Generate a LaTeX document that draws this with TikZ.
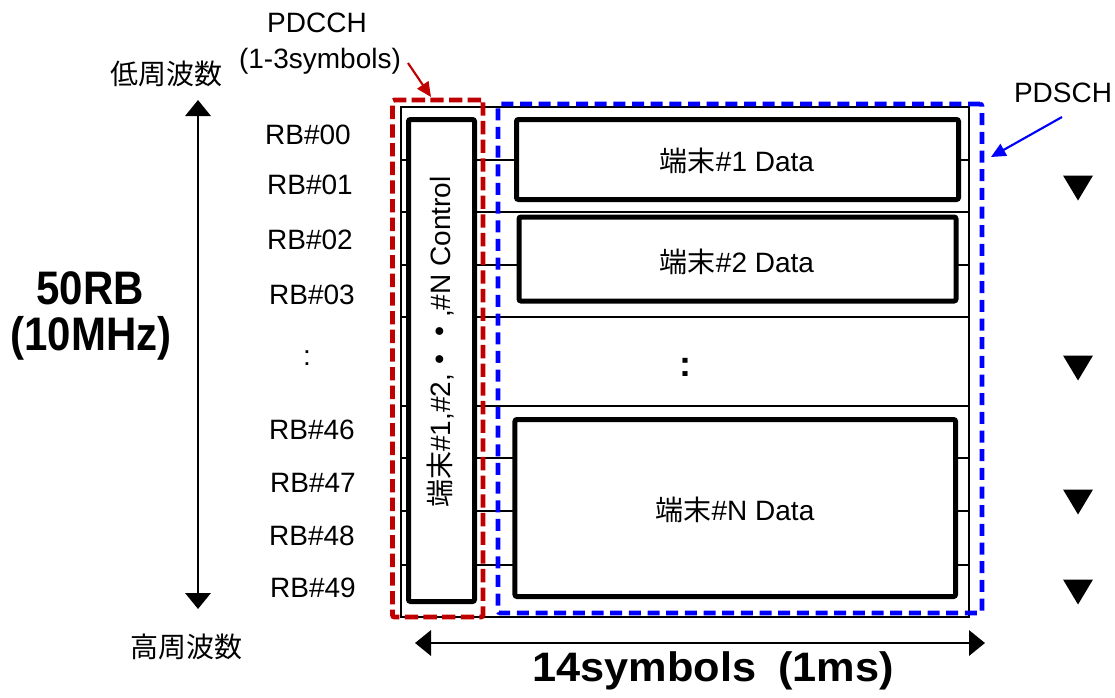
\documentclass[tikz,border=0pt]{standalone}
\usepackage{fontspec}
\setmainfont{Liberation Sans}
\newfontfamily\cjk{Noto Sans CJK JP}
\usetikzlibrary{arrows.meta}
\definecolor{pdred}{RGB}{192,0,0}
\definecolor{pdblue}{RGB}{0,0,255}
\begin{document}
\begin{tikzpicture}[x=0.75pt,y=-0.75pt,
  txt/.style={font=\fontsize{21}{25}\selectfont, inner sep=0},
  bigtxt/.style={font=\fontsize{31.5}{36}\selectfont\bfseries, inner sep=0},
  gridline/.style={line width=0.9pt},
  thickbox/.style={draw, line width=3.75pt, fill=white, rounded corners=1.5pt, inner sep=0},
  reddash/.style={draw=pdred, line width=3.6pt, dash pattern=on 10pt off 4pt, rounded corners=1.5pt, inner sep=0},
  bluedash/.style={draw=pdblue, line width=3.4pt, dash pattern=on 9pt off 5pt, rounded corners=1.5pt, inner sep=0},
  axisarrow/.style={line width=1.8pt, {Triangle[length=12pt,width=19pt]}-{Triangle[length=12pt,width=19pt]}},
  callout/.style={line width=1.6pt, -{Triangle[length=11pt,width=10pt]}},
  marker/.style={fill=black}
]
\useasboundingbox (0,0) rectangle (1115,697);

% outer grid
\draw[gridline] (401,107) rectangle (969,617);
\foreach \yy in {160,212,265,317,406,458,565}
  \draw[gridline] (401,\yy) -- (969,\yy);
\draw[line width=2pt] (401,511) -- (969,511);
\draw[line width=1.5pt] (401,617) -- (969,617);

% boxes
\node[thickbox, minimum width=49.5pt, minimum height=361.5pt] (ctrl) at (441.5,360.5) {};
\node[thickbox, minimum width=331.5pt, minimum height=60pt] (d1) at (737.5,159.5) {};
\node[thickbox, minimum width=327.75pt, minimum height=63pt] (d2) at (737.5,259) {};
\node[thickbox, minimum width=330.4pt, minimum height=132.75pt] (dn) at (735.25,508) {};

\node[txt] (d1t) at (737,161) {{\cjk 端末}\#1 Data};
\node[txt] (d2t) at (737,262) {{\cjk 端末}\#2 Data};
\node[txt] (dnt) at (735,510) {{\cjk 端末}\#N Data};
\node[txt, rotate=90] (ctrlt) at (441,342) {{\cjk 端末}\#1,\#2,{\cjk\bfseries ・・},\#N Control};
\node[txt, font=\fontsize{27}{30}\selectfont\bfseries] (mdots) at (685,367) {:};

% dashed regions
\node[reddash, minimum width=67.9pt, minimum height=387.75pt] (pdcchbox) at (437.75,358.5) {};
\node[bluedash, minimum width=363pt, minimum height=381.75pt] (pdschbox) at (740,358.5) {};

% labels
\node[txt] (pdcch) at (317,23) {PDCCH};
\node[txt] (pdcchs) at (320,61) {(1-3symbols)};
\node[txt] (pdsch) at (1063,93) {PDSCH};
\coordinate (rs) at (408,63);
\coordinate (rt) at (431,97);
\draw[callout, draw=pdred, fill=pdred] (rs) -- (rt);
\coordinate (bs) at (1062,117);
\coordinate (bt) at (991,157);
\draw[callout, draw=pdblue, fill=pdblue] (bs) -- (bt);

% RB labels
\node[txt] (rb00) at (308,135) {RB\#00};
\node[txt] (rb01) at (310,185) {RB\#01};
\node[txt] (rb02) at (310,240) {RB\#02};
\node[txt] (rb03) at (312,295) {RB\#03};
\node[txt] (rbdots) at (307,358) {:};
\node[txt] (rb46) at (312,430) {RB\#46};
\node[txt] (rb47) at (313,483) {RB\#47};
\node[txt] (rb48) at (312,536) {RB\#48};
\node[txt] (rb49) at (313,588) {RB\#49};

% frequency axis
\node[txt, font=\fontsize{21}{25}\selectfont\cjk] (low) at (166,74) {低周波数};
\node[txt, font=\fontsize{21}{25}\selectfont\cjk] (high) at (186,647) {高周波数};
\coordinate (vtop) at (198,100);
\coordinate (vbot) at (198,609);
\draw[axisarrow] (vtop) -- (vbot);
\node[bigtxt, yscale=1.12] (rb50) at (90,288) {50RB};
\node[bigtxt, yscale=1.12] (mhz) at (91,338) {(10MHz)};

% time axis
\coordinate (hl) at (415,643);
\coordinate (hr) at (985,643);
\draw[axisarrow] (hl) -- (hr);
\node[bigtxt, font=\fontsize{32.5}{36}\selectfont\bfseries, yscale=0.95] (sym) at (713,671) {14symbols\hspace{0.5em}(1ms)};

% markers
\foreach \yy in {188,368,502,592}
  \fill[marker] (1063,\yy-12.5) -- (1093,\yy-12.5) -- (1078,\yy+12.5) -- cycle;
\end{tikzpicture}
\end{document}
